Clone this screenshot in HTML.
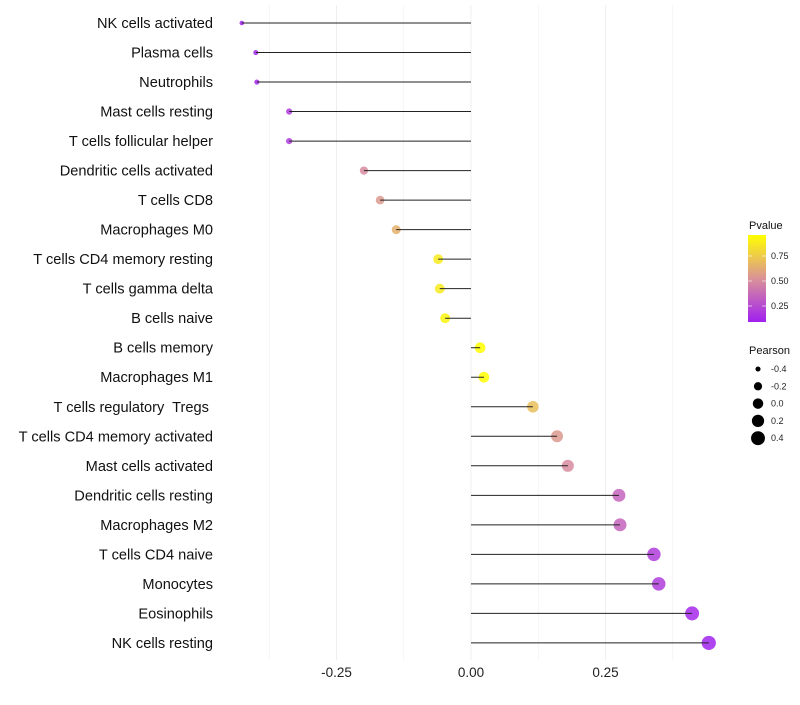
<!DOCTYPE html>
<html><head><meta charset="utf-8"><style>
body{margin:0;background:#fff;font-family:"Liberation Sans",Arial,sans-serif}
text{white-space:pre}
</style></head><body>
<svg id="chart" width="800" height="700" xmlns="http://www.w3.org/2000/svg"></svg>
<script>
const categories=["NK cells activated","Plasma cells","Neutrophils","Mast cells resting","T cells follicular helper","Dendritic cells activated","T cells CD8","Macrophages M0","T cells CD4 memory resting","T cells gamma delta","B cells naive","B cells memory","Macrophages M1","T cells regulatory  Tregs ","T cells CD4 memory activated","Mast cells activated","Dendritic cells resting","Macrophages M2","T cells CD4 naive","Monocytes","Eosinophils","NK cells resting"];
const pearson=[-0.426,-0.400,-0.398,-0.338,-0.338,-0.199,-0.169,-0.139,-0.061,-0.058,-0.048,0.017,0.024,0.115,0.160,0.180,0.275,0.277,0.340,0.349,0.411,0.442];
const pvalue=[0.10,0.12,0.12,0.20,0.20,0.50,0.55,0.65,0.88,0.88,0.92,0.98,0.98,0.70,0.55,0.50,0.35,0.35,0.20,0.20,0.12,0.10];
const xTicks=[-0.25,0,0.25];
const xTickLabels=["-0.25","0.00","0.25"];
const pLegendTicks=[0.25,0.5,0.75];
const sizeLegend=[-0.4,-0.2,0,0.2,0.4];

const NS="http://www.w3.org/2000/svg";
const svg=document.getElementById('chart');
const X=v=>471+v*538;
const Y=i=>23+i*29.52;
const R=v=>Math.sqrt(Math.max(2,5+(v+0.43)*52));
function col(p){
  const stops=[[0.09,[160,32,240]],[0.5,[216,140,160]],[0.96,[255,255,0]]];
  if(p<=stops[0][0])return 'rgb('+stops[0][1]+')';
  for(let k=0;k<stops.length-1;k++){const a=stops[k],b=stops[k+1];
    if(p<=b[0]){const t=(p-a[0])/(b[0]-a[0]);return 'rgb('+a[1].map((c,j)=>Math.round(c+(b[1][j]-c)*t)).join(',')+')';}}
  return 'rgb(255,255,0)';
}
function el(tag,attrs,txt){const e=document.createElementNS(NS,tag);for(const k in attrs)e.setAttribute(k,attrs[k]);if(txt!==undefined)e.textContent=txt;svg.appendChild(e);return e;}
for(let g=-0.375;g<=0.376;g+=0.125){const e=el('line',{x1:X(g),x2:X(g),y1:5,y2:660,stroke:'#efefef','stroke-width':g%0.25===0?1:0.6});

}
xTicks.forEach((t,i)=>{const e=el('text',{x:X(t),y:677,'text-anchor':'middle','font-size':13.5,fill:'#222'},xTickLabels[i]);

});
categories.forEach((c,i)=>{
  const lab=el('text',{x:213,y:Y(i)+5,'text-anchor':'end','font-size':14.6,fill:'#111'},c);
  
  
  const pt=el('circle',{cx:X(pearson[i]),cy:Y(i),r:R(pearson[i]),fill:col(pvalue[i]),'fill-opacity':0.85});
  
  
  const ln=el('line',{x1:X(0),x2:X(pearson[i]),y1:Y(i),y2:Y(i),stroke:'#222','stroke-width':1});
  
  
});
const defs=el('defs',{});
const lg=document.createElementNS(NS,'linearGradient');lg.setAttribute('id','pg');lg.setAttribute('x1','0');lg.setAttribute('y1','1');lg.setAttribute('x2','0');lg.setAttribute('y2','0');
[0,0.25,0.5,0.75,1].forEach(f=>{const s=document.createElementNS(NS,'stop');s.setAttribute('offset',f);s.setAttribute('stop-color',col(0.09+f*0.87));lg.appendChild(s);});
defs.appendChild(lg);
const lt=el('text',{x:749,y:229,'font-size':11,fill:'#111'},'Pvalue');


const cb=el('rect',{x:748,y:235,width:18,height:87,fill:'url(#pg)'});


pLegendTicks.forEach(p=>{const y=281-(p-0.5)*100;
  el('line',{x1:748,x2:752,y1:y,y2:y,stroke:'#fff','stroke-width':0.6});el('line',{x1:762,x2:766,y1:y,y2:y,stroke:'#fff','stroke-width':0.6});
  const t=el('text',{x:771,y:y+3,'font-size':9,fill:'#222'},p.toFixed(2));
  
  });
const st=el('text',{x:749,y:354,'font-size':11,fill:'#111'},'Pearson');


sizeLegend.forEach((v,k)=>{const y=369+k*17.3;
  const c=el('circle',{cx:758,cy:y,r:R(v),fill:'#000'});
  
  
  const t=el('text',{x:771,y:y+3,'font-size':9,fill:'#222'},v.toFixed(1));
  
  });
</script>
</body></html>
